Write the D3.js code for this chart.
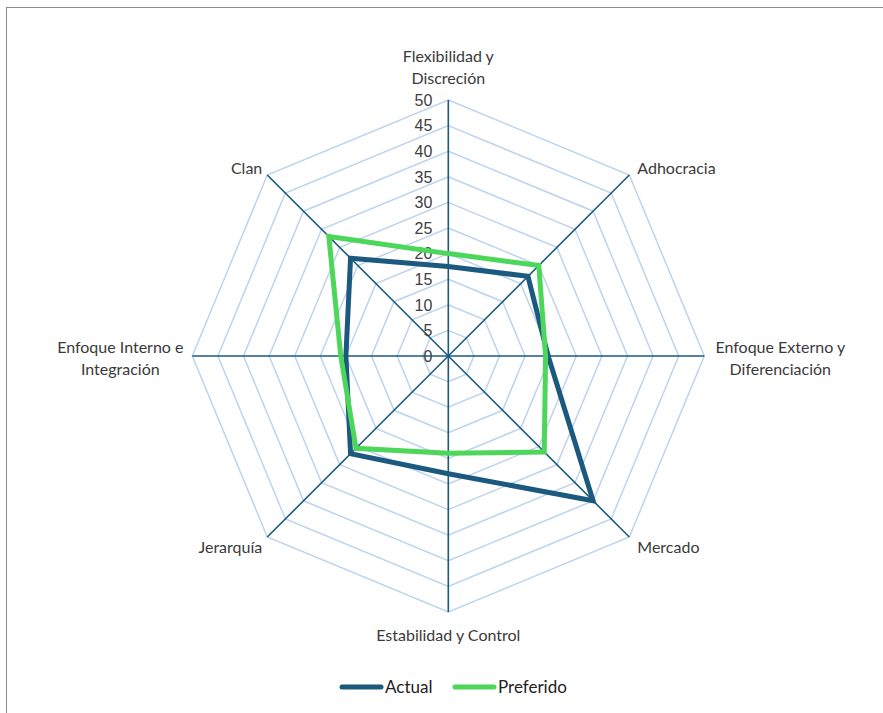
<!DOCTYPE html>
<html>
<head>
<meta charset="utf-8">
<script src="https://cdn.jsdelivr.net/npm/d3@7"></script>
<style>
  html, body { margin: 0; padding: 0; background: #fff; }
  svg { display: block; }
</style>
</head>
<body>
<svg id="chart" width="883" height="713"></svg>
<script>
// Radar axes, clockwise from the top
const categories = [
  ["Flexibilidad y", "Discreción"],
  ["Adhocracia"],
  ["Enfoque Externo y", "Diferenciación"],
  ["Mercado"],
  ["Estabilidad y Control"],
  ["Jerarquía"],
  ["Enfoque Interno e", "Integración"],
  ["Clan"]
];
const actualValues    = [17.5, 22, 19.5, 40, 23, 27, 20, 27];
const preferidoValues = [20, 25, 19, 26.5, 19, 25.5, 21, 33];
const seriesNames = ["Actual", "Preferido"];
const tickValues = [0, 5, 10, 15, 20, 25, 30, 35, 40, 45, 50];

const colors = { Actual: "#1b5a7e", Preferido: "#4cd65a" };
const cx = 448.3, cy = 356, R = 256;

const svg = d3.select("#chart");

// frame
svg.append("rect")
  .attr("x", 6.5).attr("y", 7.5).attr("width", 900).attr("height", 740)
  .attr("fill", "none").attr("stroke", "#8c8c8c").attr("stroke-width", 1);

const r = d3.scaleLinear().domain([0, 50]).range([0, R]);
const angle = d3.scaleLinear().domain([0, categories.length]).range([0, 2 * Math.PI]);
const pt = (i, v) => {
  const a = angle(i);
  return [cx + r(v) * Math.sin(a), cy - r(v) * Math.cos(a)];
};

const g = svg.append("g");

// concentric octagon gridlines
tickValues.slice(1).forEach(t => {
  g.append("path")
    .attr("d", d3.line()(categories.map((c, i) => pt(i, t))) + "Z")
    .attr("fill", "none").attr("stroke", "#bdd3ee").attr("stroke-width", 1.5);
});

// spokes
categories.forEach((c, i) => {
  const [x, y] = pt(i, 50);
  g.append("line")
    .attr("x1", cx).attr("y1", cy).attr("x2", x).attr("y2", y)
    .attr("stroke", "#1b5a7e").attr("stroke-width", 1.6);
});

// radial tick labels along the top spoke
g.selectAll("text.tick").data(tickValues).enter().append("text")
  .attr("class", "tick")
  .attr("x", cx - 16)
  .attr("y", d => cy - r(d))
  .attr("dy", "0.36em")
  .attr("text-anchor", "end")
  .attr("font-family", "Liberation Sans, Arial, sans-serif")
  .attr("font-size", 16)
  .attr("fill", "#404040")
  .text(d => d);

// series polygons
const series = [
  { name: "Actual", values: actualValues },
  { name: "Preferido", values: preferidoValues }
];
series.forEach(s => {
  g.append("path")
    .attr("d", d3.line()(s.values.map((v, i) => pt(i, v))) + "Z")
    .attr("fill", "none")
    .attr("stroke", colors[s.name])
    .attr("stroke-width", 5)
    .attr("stroke-linejoin", "miter");
});

// category labels
const labelSpecs = [
  { dx: 0, dy: -44, anchor: "middle" },
  { dx: 8, dy: -7, anchor: "start" },
  { dx: 76, dy: -9, anchor: "middle" },
  { dx: 8, dy: 10, anchor: "start" },
  { dx: 0, dy: 23, anchor: "middle" },
  { dx: -5, dy: 10, anchor: "end" },
  { dx: -72, dy: -9, anchor: "middle" },
  { dx: -5, dy: -7, anchor: "end" }
];
categories.forEach((lines, i) => {
  const [x, y] = pt(i, 50);
  const s = labelSpecs[i];
  const t = g.append("text")
    .attr("x", x + s.dx).attr("y", y + s.dy)
    .attr("text-anchor", s.anchor)
    .attr("font-family", "Lato, sans-serif")
    .attr("font-size", 16)
    .attr("fill", "#3a3a3a");
  lines.forEach((line, k) => {
    t.append("tspan")
      .attr("x", x + s.dx)
      .attr("dy", k === 0 ? "0.35em" : "1.38em")
      .text(line);
  });
});

// legend
const legend = svg.append("g");
const legendItems = [
  { name: "Actual", x: 340, tx: 385 },
  { name: "Preferido", x: 453, tx: 498 }
];
legendItems.forEach(it => {
  legend.append("line")
    .attr("x1", it.x + 2).attr("x2", it.x + 41).attr("y1", 687).attr("y2", 687)
    .attr("stroke", colors[it.name]).attr("stroke-width", 5).attr("stroke-linecap", "round");
  legend.append("text")
    .attr("x", it.tx).attr("y", 687).attr("dy", "0.36em")
    .attr("font-family", "Lato, sans-serif").attr("font-size", 17)
    .attr("fill", "#222")
    .text(it.name);
});
</script>
</body>
</html>
